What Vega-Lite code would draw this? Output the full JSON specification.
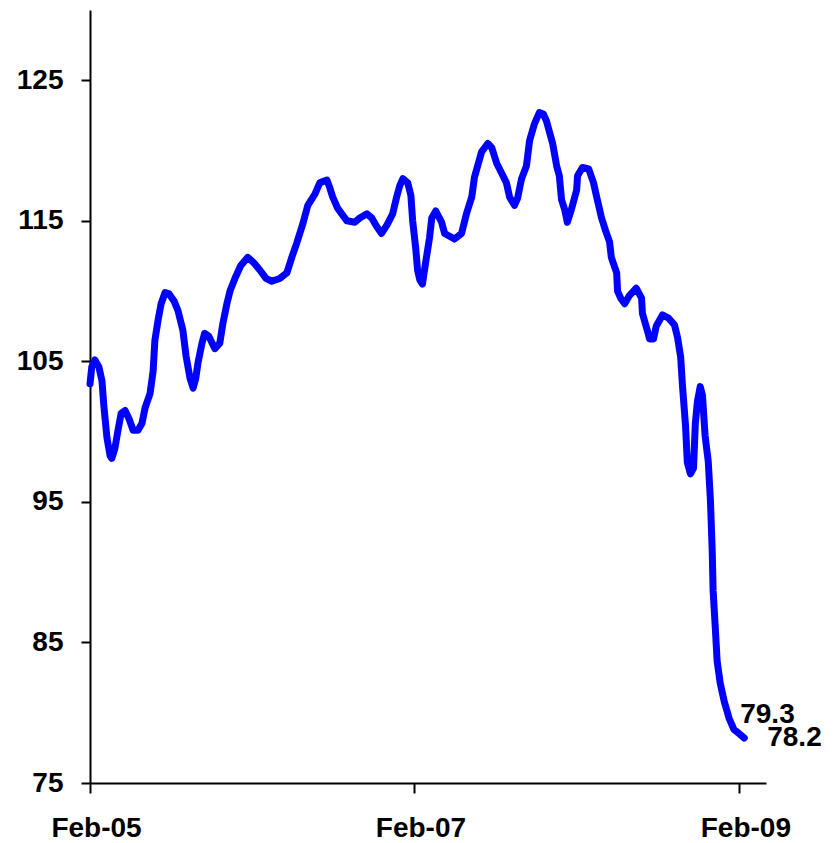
{
  "$schema": "https://vega.github.io/schema/vega-lite/v6.json",
  "width": 676,
  "height": 773,
  "autosize": {"type": "none"},
  "padding": {"left": 90, "top": 10, "right": 74, "bottom": 60},
  "background": "white",
  "config": {
    "view": {"stroke": null},
    "axis": {
      "labelFont": "Liberation Sans",
      "labelFontWeight": "bold",
      "labelFontSize": 28,
      "labelColor": "black",
      "domainColor": "black",
      "domainWidth": 2,
      "tickColor": "black",
      "tickWidth": 2,
      "grid": false,
      "title": null
    }
  },
  "datasets": {
    "series": [
      {"date": "2005-02-01", "value": 103.4},
      {"date": "2005-02-05", "value": 104.6},
      {"date": "2005-02-12", "value": 105.1},
      {"date": "2005-02-21", "value": 104.6},
      {"date": "2005-02-28", "value": 103.6},
      {"date": "2005-03-04", "value": 101.9},
      {"date": "2005-03-11", "value": 99.6},
      {"date": "2005-03-18", "value": 98.3},
      {"date": "2005-03-22", "value": 98.1},
      {"date": "2005-03-29", "value": 98.8},
      {"date": "2005-04-05", "value": 100.1},
      {"date": "2005-04-12", "value": 101.3},
      {"date": "2005-04-21", "value": 101.5},
      {"date": "2005-04-30", "value": 100.9},
      {"date": "2005-05-09", "value": 100.1},
      {"date": "2005-05-20", "value": 100.1},
      {"date": "2005-05-29", "value": 100.6},
      {"date": "2005-06-05", "value": 101.7},
      {"date": "2005-06-16", "value": 102.7},
      {"date": "2005-06-23", "value": 104.3},
      {"date": "2005-06-27", "value": 106.5},
      {"date": "2005-07-04", "value": 107.9},
      {"date": "2005-07-11", "value": 109.1},
      {"date": "2005-07-20", "value": 109.9},
      {"date": "2005-07-29", "value": 109.8},
      {"date": "2005-08-09", "value": 109.3},
      {"date": "2005-08-18", "value": 108.6},
      {"date": "2005-08-29", "value": 107.2},
      {"date": "2005-09-05", "value": 105.4},
      {"date": "2005-09-14", "value": 103.8},
      {"date": "2005-09-21", "value": 103.1},
      {"date": "2005-09-27", "value": 103.8},
      {"date": "2005-10-02", "value": 104.9},
      {"date": "2005-10-11", "value": 106.3},
      {"date": "2005-10-17", "value": 107.0},
      {"date": "2005-10-26", "value": 106.8},
      {"date": "2005-11-09", "value": 105.9},
      {"date": "2005-11-20", "value": 106.3},
      {"date": "2005-11-27", "value": 107.7},
      {"date": "2005-12-06", "value": 109.1},
      {"date": "2005-12-13", "value": 110.0},
      {"date": "2005-12-24", "value": 110.9},
      {"date": "2006-01-06", "value": 111.8},
      {"date": "2006-01-22", "value": 112.4},
      {"date": "2006-02-05", "value": 112.0},
      {"date": "2006-02-18", "value": 111.5},
      {"date": "2006-03-04", "value": 110.9},
      {"date": "2006-03-17", "value": 110.7},
      {"date": "2006-04-04", "value": 110.9},
      {"date": "2006-04-20", "value": 111.3},
      {"date": "2006-05-01", "value": 112.4},
      {"date": "2006-05-12", "value": 113.4},
      {"date": "2006-05-26", "value": 114.8},
      {"date": "2006-06-06", "value": 116.1},
      {"date": "2006-06-22", "value": 116.9},
      {"date": "2006-07-03", "value": 117.7},
      {"date": "2006-07-19", "value": 117.9},
      {"date": "2006-07-25", "value": 117.4},
      {"date": "2006-08-01", "value": 116.7},
      {"date": "2006-08-12", "value": 115.9},
      {"date": "2006-09-02", "value": 115.0},
      {"date": "2006-09-20", "value": 114.9},
      {"date": "2006-10-01", "value": 115.2},
      {"date": "2006-10-17", "value": 115.5},
      {"date": "2006-10-28", "value": 115.2},
      {"date": "2006-11-08", "value": 114.6},
      {"date": "2006-11-19", "value": 114.1},
      {"date": "2006-12-01", "value": 114.7},
      {"date": "2006-12-14", "value": 115.5},
      {"date": "2006-12-23", "value": 116.7},
      {"date": "2006-12-30", "value": 117.5},
      {"date": "2007-01-06", "value": 118.0},
      {"date": "2007-01-17", "value": 117.7},
      {"date": "2007-01-24", "value": 116.8},
      {"date": "2007-01-28", "value": 115.0},
      {"date": "2007-02-04", "value": 113.0},
      {"date": "2007-02-08", "value": 111.5},
      {"date": "2007-02-13", "value": 110.8},
      {"date": "2007-02-19", "value": 110.5},
      {"date": "2007-02-26", "value": 112.0},
      {"date": "2007-03-07", "value": 113.8},
      {"date": "2007-03-12", "value": 115.2},
      {"date": "2007-03-21", "value": 115.7},
      {"date": "2007-04-03", "value": 114.9},
      {"date": "2007-04-10", "value": 114.1},
      {"date": "2007-04-21", "value": 113.9},
      {"date": "2007-05-02", "value": 113.7},
      {"date": "2007-05-18", "value": 114.1},
      {"date": "2007-05-29", "value": 115.5},
      {"date": "2007-06-10", "value": 116.7},
      {"date": "2007-06-16", "value": 118.1},
      {"date": "2007-07-02", "value": 119.9},
      {"date": "2007-07-16", "value": 120.5},
      {"date": "2007-07-25", "value": 120.2},
      {"date": "2007-08-05", "value": 119.1},
      {"date": "2007-08-16", "value": 118.4},
      {"date": "2007-08-27", "value": 117.7},
      {"date": "2007-09-03", "value": 116.7},
      {"date": "2007-09-14", "value": 116.1},
      {"date": "2007-09-21", "value": 116.6},
      {"date": "2007-09-30", "value": 118.0},
      {"date": "2007-10-11", "value": 118.9},
      {"date": "2007-10-18", "value": 120.7},
      {"date": "2007-10-29", "value": 121.9},
      {"date": "2007-11-09", "value": 122.7},
      {"date": "2007-11-18", "value": 122.6},
      {"date": "2007-11-25", "value": 122.1},
      {"date": "2007-12-09", "value": 120.5},
      {"date": "2007-12-18", "value": 118.9},
      {"date": "2007-12-24", "value": 118.2},
      {"date": "2007-12-29", "value": 116.5},
      {"date": "2008-01-05", "value": 115.8},
      {"date": "2008-01-11", "value": 114.9},
      {"date": "2008-01-20", "value": 115.8},
      {"date": "2008-02-01", "value": 117.2},
      {"date": "2008-02-03", "value": 118.2},
      {"date": "2008-02-14", "value": 118.8},
      {"date": "2008-02-28", "value": 118.7},
      {"date": "2008-03-10", "value": 117.7},
      {"date": "2008-03-17", "value": 116.7},
      {"date": "2008-03-28", "value": 115.2},
      {"date": "2008-04-06", "value": 114.3},
      {"date": "2008-04-15", "value": 113.5},
      {"date": "2008-04-19", "value": 112.4},
      {"date": "2008-05-01", "value": 111.3},
      {"date": "2008-05-03", "value": 110.0},
      {"date": "2008-05-10", "value": 109.5},
      {"date": "2008-05-19", "value": 109.1},
      {"date": "2008-05-30", "value": 109.7},
      {"date": "2008-06-14", "value": 110.2},
      {"date": "2008-06-26", "value": 109.5},
      {"date": "2008-06-28", "value": 108.4},
      {"date": "2008-07-09", "value": 107.2},
      {"date": "2008-07-14", "value": 106.6},
      {"date": "2008-07-23", "value": 106.6},
      {"date": "2008-07-29", "value": 107.5},
      {"date": "2008-08-12", "value": 108.3},
      {"date": "2008-08-25", "value": 108.1},
      {"date": "2008-09-08", "value": 107.6},
      {"date": "2008-09-15", "value": 106.7},
      {"date": "2008-09-22", "value": 105.3},
      {"date": "2008-09-26", "value": 103.3},
      {"date": "2008-10-03", "value": 100.4},
      {"date": "2008-10-07", "value": 97.8},
      {"date": "2008-10-14", "value": 97.0},
      {"date": "2008-10-21", "value": 97.4},
      {"date": "2008-10-25", "value": 100.6},
      {"date": "2008-10-30", "value": 102.2},
      {"date": "2008-11-05", "value": 103.2},
      {"date": "2008-11-10", "value": 102.6},
      {"date": "2008-11-16", "value": 99.7},
      {"date": "2008-11-23", "value": 97.9},
      {"date": "2008-11-28", "value": 95.1},
      {"date": "2008-12-02", "value": 91.5},
      {"date": "2008-12-04", "value": 88.7},
      {"date": "2008-12-09", "value": 86.0},
      {"date": "2008-12-13", "value": 83.7},
      {"date": "2008-12-20", "value": 82.1},
      {"date": "2008-12-29", "value": 80.8},
      {"date": "2009-01-09", "value": 79.6},
      {"date": "2009-01-20", "value": 78.8},
      {"date": "2009-02-01", "value": 78.5},
      {"date": "2009-02-12", "value": 78.2}
    ],
    "labelA": [{"date": "2009-02-12", "value": 79.3, "label": "79.3"}],
    "labelB": [{"date": "2009-02-12", "value": 78.2, "label": "78.2"}]
  },
  "encoding": {
    "x": {
      "field": "date",
      "type": "temporal",
      "scale": {
        "type": "utc",
        "domain": [
          {"year": 2005, "month": "feb", "date": 1, "utc": true},
          {"year": 2009, "month": "apr", "date": 2, "utc": true}
        ]
      },
      "axis": {
        "values": [
          {"year": 2005, "month": "feb", "date": 1, "utc": true},
          {"year": 2007, "month": "feb", "date": 1, "utc": true},
          {"year": 2009, "month": "feb", "date": 1, "utc": true}
        ],
        "labelExpr": "utcFormat(datum.value, '%b-%y')",
        "tickSize": 10,
        "labelPadding": 21,
        "labelOffset": 6,
        "labelFlush": false,
        "labelOverlap": false
      }
    },
    "y": {
      "field": "value",
      "type": "quantitative",
      "scale": {"domain": [75, 130], "nice": false, "zero": false},
      "axis": {
        "values": [75, 85, 95, 105, 115, 125],
        "tickSize": 9,
        "labelPadding": 18,
        "labelFlush": false,
        "labelOverlap": false
      }
    }
  },
  "layer": [
    {
      "data": {"name": "series"},
      "mark": {
        "type": "line",
        "color": "#0000FF",
        "strokeWidth": 7,
        "strokeCap": "round",
        "strokeJoin": "round",
        "clip": false
      }
    },
    {
      "data": {"name": "labelA"},
      "mark": {
        "type": "text",
        "align": "left",
        "baseline": "alphabetic",
        "dx": -4,
        "dy": 0,
        "font": "Liberation Sans",
        "fontWeight": "bold",
        "fontSize": 28,
        "color": "black"
      },
      "encoding": {"text": {"field": "label"}}
    },
    {
      "data": {"name": "labelB"},
      "mark": {
        "type": "text",
        "align": "left",
        "baseline": "alphabetic",
        "dx": 23,
        "dy": 8,
        "font": "Liberation Sans",
        "fontWeight": "bold",
        "fontSize": 28,
        "color": "black"
      },
      "encoding": {"text": {"field": "label"}}
    }
  ]
}
